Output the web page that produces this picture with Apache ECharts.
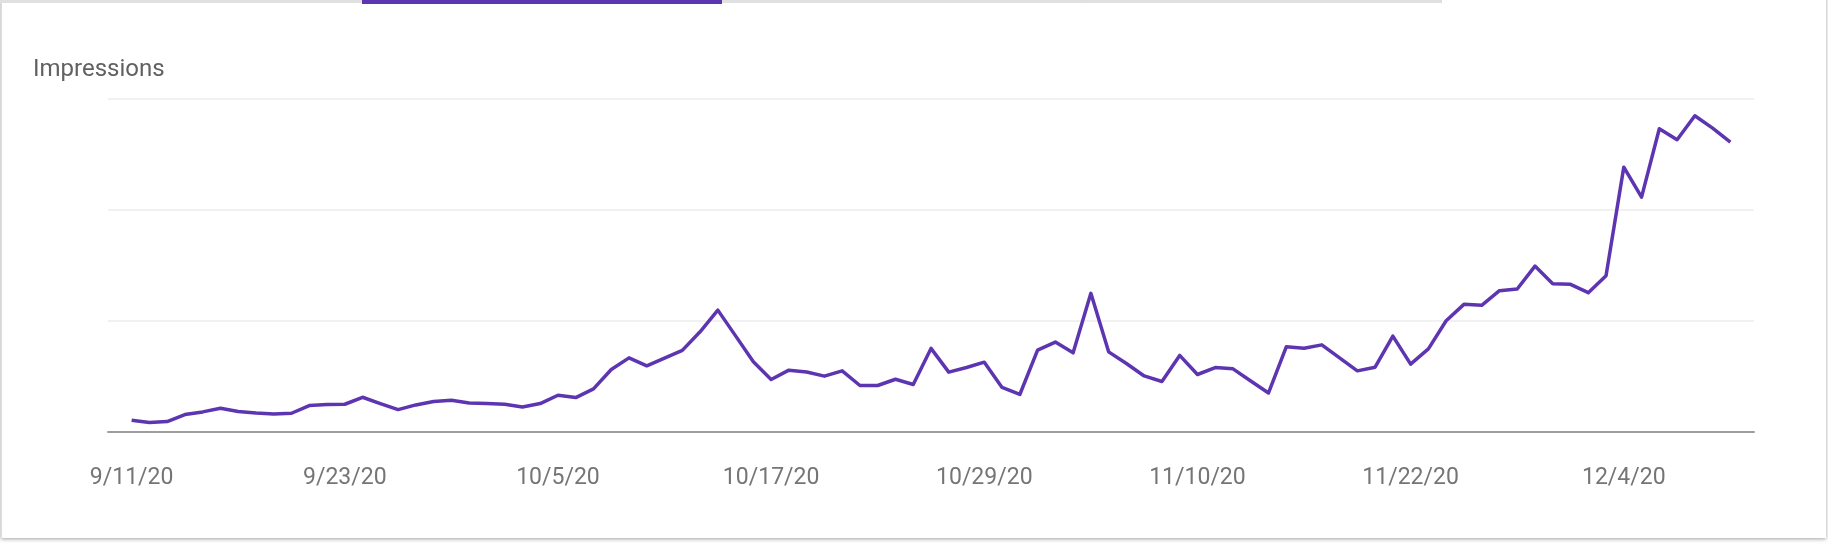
<!DOCTYPE html>
<html>
<head>
<meta charset="utf-8">
<title>Impressions</title>
<script src="https://cdn.jsdelivr.net/npm/echarts@6/dist/echarts.min.js"></script>
<style>
  html, body { margin: 0; padding: 0; background: #ffffff; overflow: hidden; }
  #card {
    position: absolute; left: 1px; top: -20px; width: 1825px; height: 558px;
    background: #ffffff; box-shadow: 0 1px 4px rgba(0, 0, 0, 0.38);
    border-left: 1px solid #dcdcdc; box-sizing: border-box;
  }
  .tab {
    position: absolute; top: -37px; height: 40px; box-sizing: border-box;
    border-bottom: 3px solid #e0e0e0;
  }
  #main { position: absolute; left: 0; top: 0; width: 1828px; height: 544px; }
</style>
</head>
<body>
<div id="card"></div>
<div class="tab" style="left:0;width:362px;"></div>
<div class="tab" style="left:362px;width:360px;top:-36px;border-bottom:4px solid #5e35b1;"></div>
<div class="tab" style="left:722px;width:360px;border-right:2px solid #dedede;"></div>
<div class="tab" style="left:1082px;width:360px;border-right:2px solid #dedede;"></div>
<div id="main"></div>
<script>
// daily impressions, 9/11/20 .. 12/10/20 (y axis is unlabeled, values in arbitrary units)
const impressions = [
  10.6, 8.5, 9.4, 15.7, 18.1, 21.4, 18.4, 17.1, 16.2, 16.9,
  23.8, 24.7, 25.0, 31.3, 25.6, 20.2, 24.4, 27.4, 28.6, 26.2,
  25.6, 25.0, 22.6, 25.6, 33.1, 31.0, 38.8, 56.3, 66.8, 59.6,
  66.5, 73.5, 90.3, 109.8, 86.6, 63.2, 47.3, 55.7, 54.1, 50.3,
  55.1, 41.9, 41.9, 47.5, 42.8, 75.3, 53.9, 58.1, 62.9, 40.1,
  33.8, 73.7, 81.0, 71.3, 124.9, 72.2, 61.7, 50.5, 45.5, 69.0,
  51.8, 58.1, 56.9, 46.0, 35.2, 76.7, 75.5, 78.5, 66.8, 55.1,
  58.4, 86.4, 61.1, 74.9, 100.2, 115.0, 114.1, 127.3, 128.8, 149.5,
  133.6, 133.0, 125.5, 140.8, 238.6, 211.6, 273.2, 263.3, 284.9, 273.8,
  261.2
];

// day offsets (from 9/11/20) that carry a label, and their text
const tickDays = [0, 12, 24, 36, 48, 60, 72, 84];
const tickLabels = ["9/11/20", "9/23/20", "10/5/20", "10/17/20", "10/29/20", "11/10/20", "11/22/20", "12/4/20"];

const yTicks = [0, 100, 200, 300];

const chart = echarts.init(document.getElementById("main"), null, { renderer: "canvas" });

const option = {
  animation: false,
  title: {
    text: "Impressions",
    left: 33,
    top: 58,
    padding: 0,
    textStyle: { fontFamily: "Roboto", fontSize: 24, fontWeight: "normal", color: "#616161" }
  },
  grid: { left: 108, right: 74, top: 99, bottom: 112 },
  xAxis: {
    type: "value",
    min: -1.33,
    max: 91.33,
    splitLine: { show: false },
    axisTick: { show: false },
    axisLine: { show: true, lineStyle: { color: "#9e9e9e", width: 2 } },
    axisLabel: {
      customValues: tickDays,
      formatter: (v) => tickLabels[tickDays.indexOf(v)],
      margin: 35,
      fontFamily: "Roboto",
      fontSize: 23,
      color: "#757575"
    }
  },
  yAxis: {
    type: "value",
    min: yTicks[0],
    max: yTicks[yTicks.length - 1],
    interval: 100,
    axisLine: { show: false },
    axisTick: { show: false },
    axisLabel: { show: false },
    splitLine: { lineStyle: { color: "#ececec", width: 1.5 } }
  },
  series: [
    {
      type: "line",
      data: impressions.map((v, i) => [i, v]),
      showSymbol: false,
      lineStyle: { color: "#5e35b1", width: 3.5, join: "round" },
      z: 3
    }
  ]
};

chart.setOption(option);
</script>
</body>
</html>
